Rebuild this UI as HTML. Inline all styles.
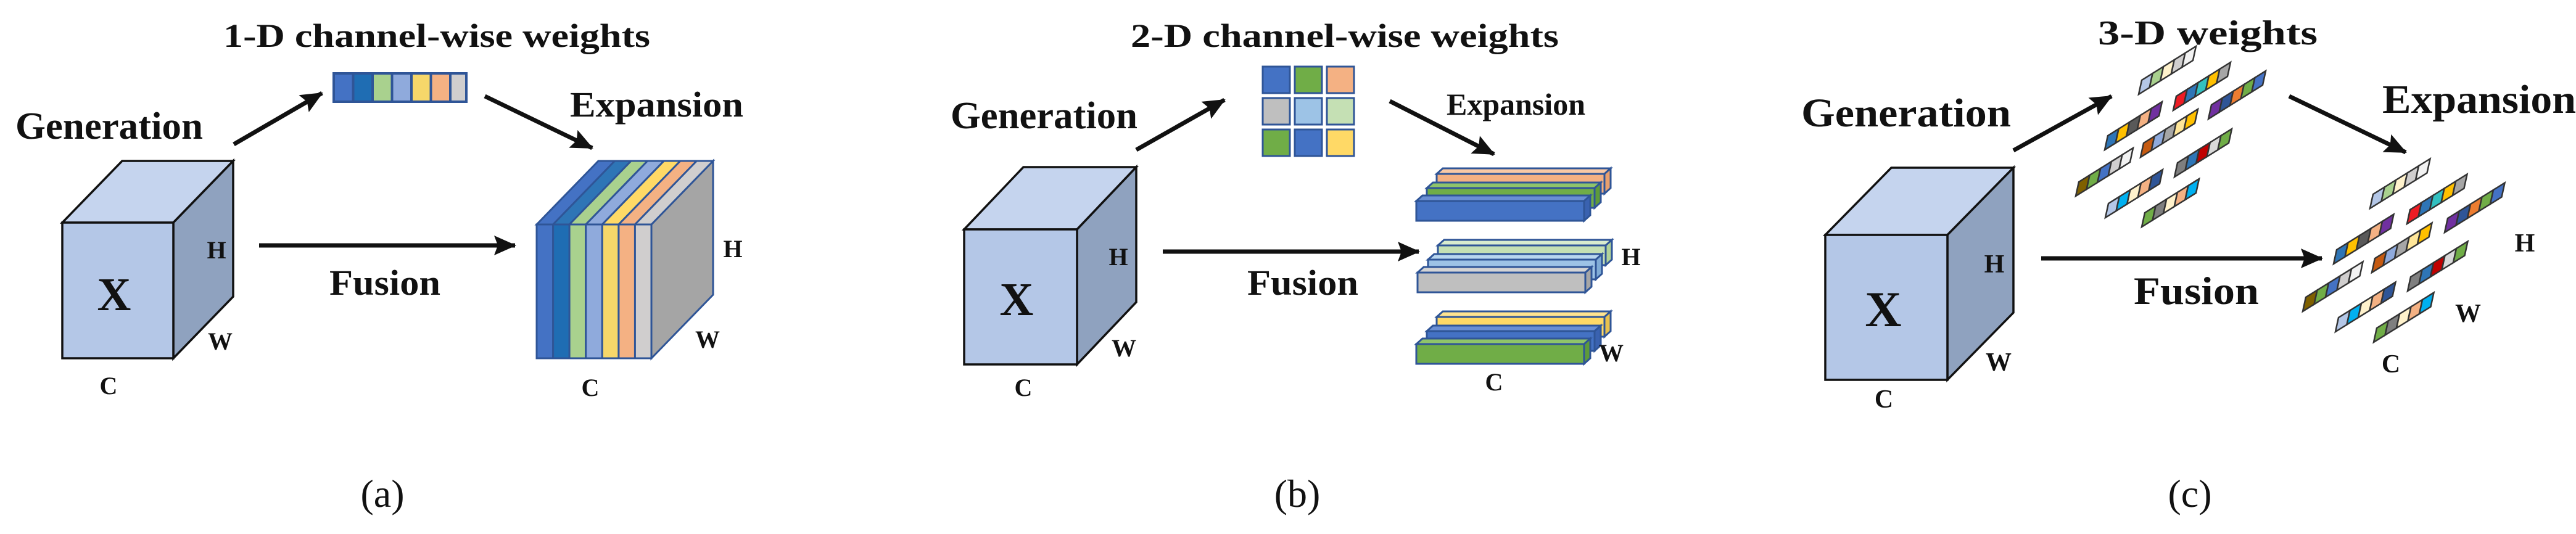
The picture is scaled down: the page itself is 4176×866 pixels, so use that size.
<!DOCTYPE html>
<html><head><meta charset="utf-8"><style>
html,body{margin:0;padding:0;background:#fff;}
svg{display:block;}
text{font-family:"Liberation Serif",serif;font-weight:bold;fill:#111;}
.lbl{font-weight:normal;}
.s rect{stroke:#333;stroke-width:2.5;vector-effect:non-scaling-stroke;}
</style></head><body>
<svg width="4176" height="866" viewBox="0 0 4176 866" xmlns="http://www.w3.org/2000/svg">
<defs>
<marker id="ah" markerUnits="userSpaceOnUse" markerWidth="40" markerHeight="32" refX="34" refY="16" orient="auto">
<path d="M0,0 L36,16 L0,32 L6,16 Z" fill="#111"/>
</marker>
</defs>

<!-- ================= (a) ================= -->
<text x="362" y="76" font-size="54" textLength="692" lengthAdjust="spacingAndGlyphs">1-D channel-wise weights</text>
<!-- 1D bar -->
<rect x="539" y="117" width="219" height="50" fill="#2f5597"/>
<g stroke="#2f5597" stroke-width="2">
<rect x="542" y="120" width="29.5" height="44" fill="#4472c4"/>
<rect x="573.5" y="120" width="29.5" height="44" fill="#1f6db3"/>
<rect x="605" y="120" width="29.5" height="44" fill="#a9d18e"/>
<rect x="636.5" y="120" width="29.5" height="44" fill="#8faadc"/>
<rect x="668" y="120" width="29.5" height="44" fill="#f6d76a"/>
<rect x="699.5" y="120" width="29.5" height="44" fill="#f4b183"/>
<rect x="731" y="120" width="24" height="44" fill="#d0cece"/>
</g>
<text x="25" y="225" font-size="62" textLength="304" lengthAdjust="spacingAndGlyphs">Generation</text>
<text x="924" y="189" font-size="58" textLength="281" lengthAdjust="spacingAndGlyphs">Expansion</text>
<text x="534" y="478" font-size="58" textLength="180" lengthAdjust="spacingAndGlyphs">Fusion</text>
<line x1="379" y1="234" x2="522" y2="151" stroke="#111" stroke-width="7" marker-end="url(#ah)"/>
<line x1="786" y1="156" x2="960" y2="240" stroke="#111" stroke-width="7" marker-end="url(#ah)"/>
<line x1="420" y1="398" x2="835" y2="398" stroke="#111" stroke-width="7" marker-end="url(#ah)"/>
<!-- cube a -->
<g stroke="#111" stroke-width="3.5" stroke-linejoin="miter">
<polygon points="101,361 198,261 378,261 281,361" fill="#c5d4ee"/>
<polygon points="281,361 378,261 378,481 281,581" fill="#8fa2bf"/>
<rect x="101" y="361" width="180" height="220" fill="#b4c7e7"/>
</g>
<text x="185" y="503" font-size="76" text-anchor="middle">X</text>
<text x="351" y="419" font-size="40" text-anchor="middle">H</text>
<text x="357" y="567" font-size="40" text-anchor="middle">W</text>
<text x="176" y="639" font-size="40" text-anchor="middle">C</text>
<!-- expanded block a -->
<g stroke="#2f5597" stroke-width="3">
<polygon points="1056,364 1156,261 1156,478 1056,581" fill="#a5a5a5"/>
<polygon points="870,364 896.6,364 996.6,261 970,261" fill="#4472c4"/>
<polygon points="896.6,364 923.1,364 1023.1,261 996.6,261" fill="#2e75b6"/>
<polygon points="923.1,364 949.7,364 1049.7,261 1023.1,261" fill="#a9d18e"/>
<polygon points="949.7,364 976.3,364 1076.3,261 1049.7,261" fill="#8faadc"/>
<polygon points="976.3,364 1002.9,364 1102.9,261 1076.3,261" fill="#ffd966"/>
<polygon points="1002.9,364 1029.4,364 1129.4,261 1102.9,261" fill="#f4b183"/>
<polygon points="1029.4,364 1056,364 1156,261 1129.4,261" fill="#d0cece"/>
<rect x="870" y="364" width="26.6" height="217" fill="#4472c4"/>
<rect x="896.6" y="364" width="26.6" height="217" fill="#1f6db3"/>
<rect x="923.1" y="364" width="26.6" height="217" fill="#a9d18e"/>
<rect x="949.7" y="364" width="26.6" height="217" fill="#8faadc"/>
<rect x="976.3" y="364" width="26.6" height="217" fill="#f6d76a"/>
<rect x="1002.9" y="364" width="26.6" height="217" fill="#f4b183"/>
<rect x="1029.4" y="364" width="26.6" height="217" fill="#d0cece"/>
</g>
<text x="1188" y="417" font-size="40" text-anchor="middle">H</text>
<text x="1147" y="564" font-size="40" text-anchor="middle">W</text>
<text x="957" y="642" font-size="40" text-anchor="middle">C</text>
<text class="lbl" x="620" y="822" font-size="64" text-anchor="middle">(a)</text>

<!-- ================= (b) ================= -->
<text x="1833" y="76" font-size="54" textLength="694" lengthAdjust="spacingAndGlyphs">2-D channel-wise weights</text>
<g stroke="#2f5597" stroke-width="3">
<rect x="2047" y="108" width="44" height="43" fill="#4472c4"/>
<rect x="2099" y="108" width="44" height="43" fill="#70ad47"/>
<rect x="2151" y="108" width="44" height="43" fill="#f4b183"/>
<rect x="2047" y="159" width="44" height="43" fill="#bfbfbf"/>
<rect x="2099" y="159" width="44" height="43" fill="#9dc3e6"/>
<rect x="2151" y="159" width="44" height="43" fill="#c5e0b4"/>
<rect x="2047" y="210" width="44" height="43" fill="#70ad47"/>
<rect x="2099" y="210" width="44" height="43" fill="#4472c4"/>
<rect x="2151" y="210" width="44" height="43" fill="#ffd966"/>
</g>
<text x="1541" y="208" font-size="62" textLength="303" lengthAdjust="spacingAndGlyphs">Generation</text>
<text x="2345" y="186" font-size="50" textLength="225" lengthAdjust="spacingAndGlyphs">Expansion</text>
<text x="2022" y="478" font-size="58" textLength="180" lengthAdjust="spacingAndGlyphs">Fusion</text>
<line x1="1842" y1="243" x2="1985" y2="162" stroke="#111" stroke-width="7" marker-end="url(#ah)"/>
<line x1="2253" y1="164" x2="2422" y2="250" stroke="#111" stroke-width="7" marker-end="url(#ah)"/>
<line x1="1885" y1="408" x2="2300" y2="408" stroke="#111" stroke-width="7" marker-end="url(#ah)"/>
<g stroke="#111" stroke-width="3.5">
<polygon points="1563,372 1659,271 1842,271 1746,372" fill="#c5d4ee"/>
<polygon points="1746,372 1842,271 1842,490 1746,591" fill="#8fa2bf"/>
<rect x="1563" y="372" width="183" height="219" fill="#b4c7e7"/>
</g>
<text x="1648" y="511" font-size="76" text-anchor="middle">X</text>
<text x="1813" y="430" font-size="40" text-anchor="middle">H</text>
<text x="1822" y="578" font-size="40" text-anchor="middle">W</text>
<text x="1659" y="642" font-size="40" text-anchor="middle">C</text>
<!-- bars -->
<g stroke="#2f5597" stroke-width="3">
<!-- group 1 -->
<polygon points="2329,282 2339,273 2611,273 2601,282" fill="#f8c9a6"/><polygon points="2601,282 2611,273 2611,305 2601,314" fill="#e9a06e"/><rect x="2329" y="282" width="272" height="32" fill="#f4b183"/>
<polygon points="2313,305 2323,296 2595,296 2585,305" fill="#8fc46a"/><polygon points="2585,305 2595,296 2595,328 2585,337" fill="#5e9a3a"/><rect x="2313" y="305" width="272" height="32" fill="#70ad47"/>
<polygon points="2296,326 2306,317 2578,317 2568,326" fill="#6a8fd4"/><polygon points="2568,326 2578,317 2578,349 2568,358" fill="#3a62b0"/><rect x="2296" y="326" width="272" height="32" fill="#4472c4"/>
<!-- group 2 -->
<polygon points="2331,398 2341,389 2613,389 2603,398" fill="#d9ecce"/><polygon points="2603,398 2613,389 2613,421 2603,430" fill="#b0d29a"/><rect x="2331" y="398" width="272" height="32" fill="#c5e0b4"/>
<polygon points="2315,421 2325,412 2597,412 2587,421" fill="#b8d6ef"/><polygon points="2587,421 2597,412 2597,444 2587,453" fill="#80acd6"/><rect x="2315" y="421" width="272" height="32" fill="#9dc3e6"/>
<polygon points="2298,442 2308,433 2580,433 2570,442" fill="#d4d4d4"/><polygon points="2570,442 2580,433 2580,465 2570,474" fill="#a6a6a6"/><rect x="2298" y="442" width="272" height="32" fill="#bfbfbf"/>
<!-- group 3 -->
<polygon points="2329,514 2339,505 2611,505 2601,514" fill="#ffe38f"/><polygon points="2601,514 2611,505 2611,537 2601,546" fill="#e8c14f"/><rect x="2329" y="514" width="272" height="32" fill="#ffd966"/>
<polygon points="2313,537 2323,528 2595,528 2585,537" fill="#6a8fd4"/><polygon points="2585,537 2595,528 2595,560 2585,569" fill="#3a62b0"/><rect x="2313" y="537" width="272" height="32" fill="#4472c4"/>
<polygon points="2296,558 2306,549 2578,549 2568,558" fill="#8fc46a"/><polygon points="2568,558 2578,549 2578,581 2568,590" fill="#5e9a3a"/><rect x="2296" y="558" width="272" height="32" fill="#70ad47"/>
</g>
<text x="2644" y="430" font-size="40" text-anchor="middle">H</text>
<text x="2612" y="586" font-size="40" text-anchor="middle">W</text>
<text x="2422" y="633" font-size="40" text-anchor="middle">C</text>
<text class="lbl" x="2103" y="822" font-size="64" text-anchor="middle">(b)</text>

<!-- ================= (c) ================= -->
<text x="3401" y="72" font-size="56" textLength="356" lengthAdjust="spacingAndGlyphs">3-D weights</text>
<text x="2920" y="205" font-size="66" textLength="340" lengthAdjust="spacingAndGlyphs">Generation</text>
<text x="3862" y="183" font-size="66" textLength="314" lengthAdjust="spacingAndGlyphs">Expansion</text>
<text x="3459" y="493" font-size="64" textLength="203" lengthAdjust="spacingAndGlyphs">Fusion</text>
<line x1="3264" y1="244" x2="3423" y2="156" stroke="#111" stroke-width="7" marker-end="url(#ah)"/>
<line x1="3711" y1="156" x2="3900" y2="247" stroke="#111" stroke-width="7" marker-end="url(#ah)"/>
<line x1="3309" y1="419" x2="3764" y2="419" stroke="#111" stroke-width="7" marker-end="url(#ah)"/>
<g stroke="#111" stroke-width="3.5">
<polygon points="2959,381 3066,272 3264,272 3157,381" fill="#c5d4ee"/>
<polygon points="3157,381 3264,272 3264,507 3157,616" fill="#8fa2bf"/>
<rect x="2959" y="381" width="198" height="235" fill="#b4c7e7"/>
</g>
<text x="3053" y="529" font-size="82" text-anchor="middle">X</text>
<text x="3233" y="442" font-size="42" text-anchor="middle">H</text>
<text x="3240" y="601" font-size="42" text-anchor="middle">W</text>
<text x="3054" y="661" font-size="42" text-anchor="middle">C</text>

<!-- generation cluster strips -->
<g class="s">
<g transform="matrix(17.6,-11,-5,23,3472,130)"><rect x="0" y="0" width="1" height="1" fill="#b4c7e7"/><rect x="1" y="0" width="1" height="1" fill="#a9d18e"/><rect x="2" y="0" width="1" height="1" fill="#fff2cc"/><rect x="3" y="0" width="1" height="1" fill="#d0cece"/><rect x="4" y="0" width="1" height="1" fill="#f2f2f2"/></g>
<g transform="matrix(17.6,-11,-5,23,3528,156)"><rect x="0" y="0" width="1" height="1" fill="#ee1c24"/><rect x="1" y="0" width="1" height="1" fill="#2e75b6"/><rect x="2" y="0" width="1" height="1" fill="#33c0c0"/><rect x="3" y="0" width="1" height="1" fill="#ffc000"/><rect x="4" y="0" width="1" height="1" fill="#a6a6a6"/></g>
<g transform="matrix(17.6,-11,-5,23,3417,220)"><rect x="0" y="0" width="1" height="1" fill="#2e75b6"/><rect x="1" y="0" width="1" height="1" fill="#ffc000"/><rect x="2" y="0" width="1" height="1" fill="#595959"/><rect x="3" y="0" width="1" height="1" fill="#f4b183"/><rect x="4" y="0" width="1" height="1" fill="#7030a0"/></g>
<g transform="matrix(17.6,-11,-5,23,3475,232)"><rect x="0" y="0" width="1" height="1" fill="#c55a11"/><rect x="1" y="0" width="1" height="1" fill="#8faadc"/><rect x="2" y="0" width="1" height="1" fill="#a6a6a6"/><rect x="3" y="0" width="1" height="1" fill="#ffe699"/><rect x="4" y="0" width="1" height="1" fill="#ffc000"/></g>
<g transform="matrix(17.6,-11,-5,23,3585,170)"><rect x="0" y="0" width="1" height="1" fill="#7030a0"/><rect x="1" y="0" width="1" height="1" fill="#2f5597"/><rect x="2" y="0" width="1" height="1" fill="#ed7d31"/><rect x="3" y="0" width="1" height="1" fill="#70ad47"/><rect x="4" y="0" width="1" height="1" fill="#4472c4"/></g>
<g transform="matrix(17.6,-11,-5,23,3370,295)"><rect x="0" y="0" width="1" height="1" fill="#7f6000"/><rect x="1" y="0" width="1" height="1" fill="#70ad47"/><rect x="2" y="0" width="1" height="1" fill="#4472c4"/><rect x="3" y="0" width="1" height="1" fill="#d0cece"/><rect x="4" y="0" width="1" height="1" fill="#f2f2f2"/></g>
<g transform="matrix(17.6,-11,-5,23,3530,264)"><rect x="0" y="0" width="1" height="1" fill="#7f7f7f"/><rect x="1" y="0" width="1" height="1" fill="#2e75b6"/><rect x="2" y="0" width="1" height="1" fill="#c00000"/><rect x="3" y="0" width="1" height="1" fill="#d9d9d9"/><rect x="4" y="0" width="1" height="1" fill="#70ad47"/></g>
<g transform="matrix(17.6,-11,-5,23,3418,330)"><rect x="0" y="0" width="1" height="1" fill="#b4c7e7"/><rect x="1" y="0" width="1" height="1" fill="#00b0f0"/><rect x="2" y="0" width="1" height="1" fill="#fff2cc"/><rect x="3" y="0" width="1" height="1" fill="#f4b183"/><rect x="4" y="0" width="1" height="1" fill="#2f5597"/></g>
<g transform="matrix(17.6,-11,-5,23,3477,345)"><rect x="0" y="0" width="1" height="1" fill="#70ad47"/><rect x="1" y="0" width="1" height="1" fill="#7f7f7f"/><rect x="2" y="0" width="1" height="1" fill="#fff2cc"/><rect x="3" y="0" width="1" height="1" fill="#f4b183"/><rect x="4" y="0" width="1" height="1" fill="#00b0f0"/></g>
</g>

<!-- expansion cluster strips -->
<g class="s">
<g transform="matrix(18.5,-11.5,-5,23,3847,315)"><rect x="0" y="0" width="1" height="1" fill="#b4c7e7"/><rect x="1" y="0" width="1" height="1" fill="#a9d18e"/><rect x="2" y="0" width="1" height="1" fill="#fff2cc"/><rect x="3" y="0" width="1" height="1" fill="#d0cece"/><rect x="4" y="0" width="1" height="1" fill="#f2f2f2"/></g>
<g transform="matrix(18.5,-11.5,-5,23,3907,340)"><rect x="0" y="0" width="1" height="1" fill="#ee1c24"/><rect x="1" y="0" width="1" height="1" fill="#2e75b6"/><rect x="2" y="0" width="1" height="1" fill="#33c0c0"/><rect x="3" y="0" width="1" height="1" fill="#ffc000"/><rect x="4" y="0" width="1" height="1" fill="#a6a6a6"/></g>
<g transform="matrix(18.5,-11.5,-5,23,3788,405)"><rect x="0" y="0" width="1" height="1" fill="#2e75b6"/><rect x="1" y="0" width="1" height="1" fill="#ffc000"/><rect x="2" y="0" width="1" height="1" fill="#595959"/><rect x="3" y="0" width="1" height="1" fill="#f4b183"/><rect x="4" y="0" width="1" height="1" fill="#7030a0"/></g>
<g transform="matrix(18.5,-11.5,-5,23,3850,419)"><rect x="0" y="0" width="1" height="1" fill="#c55a11"/><rect x="1" y="0" width="1" height="1" fill="#8faadc"/><rect x="2" y="0" width="1" height="1" fill="#a6a6a6"/><rect x="3" y="0" width="1" height="1" fill="#ffe699"/><rect x="4" y="0" width="1" height="1" fill="#ffc000"/></g>
<g transform="matrix(18.5,-11.5,-5,23,3968,354)"><rect x="0" y="0" width="1" height="1" fill="#7030a0"/><rect x="1" y="0" width="1" height="1" fill="#2f5597"/><rect x="2" y="0" width="1" height="1" fill="#ed7d31"/><rect x="3" y="0" width="1" height="1" fill="#70ad47"/><rect x="4" y="0" width="1" height="1" fill="#4472c4"/></g>
<g transform="matrix(18.5,-11.5,-5,23,3738,482)"><rect x="0" y="0" width="1" height="1" fill="#7f6000"/><rect x="1" y="0" width="1" height="1" fill="#70ad47"/><rect x="2" y="0" width="1" height="1" fill="#4472c4"/><rect x="3" y="0" width="1" height="1" fill="#d0cece"/><rect x="4" y="0" width="1" height="1" fill="#f2f2f2"/></g>
<g transform="matrix(18.5,-11.5,-5,23,3908,449)"><rect x="0" y="0" width="1" height="1" fill="#7f7f7f"/><rect x="1" y="0" width="1" height="1" fill="#2e75b6"/><rect x="2" y="0" width="1" height="1" fill="#c00000"/><rect x="3" y="0" width="1" height="1" fill="#d9d9d9"/><rect x="4" y="0" width="1" height="1" fill="#70ad47"/></g>
<g transform="matrix(18.5,-11.5,-5,23,3791,515)"><rect x="0" y="0" width="1" height="1" fill="#b4c7e7"/><rect x="1" y="0" width="1" height="1" fill="#00b0f0"/><rect x="2" y="0" width="1" height="1" fill="#fff2cc"/><rect x="3" y="0" width="1" height="1" fill="#f4b183"/><rect x="4" y="0" width="1" height="1" fill="#2f5597"/></g>
<g transform="matrix(18.5,-11.5,-5,23,3853,532)"><rect x="0" y="0" width="1" height="1" fill="#70ad47"/><rect x="1" y="0" width="1" height="1" fill="#7f7f7f"/><rect x="2" y="0" width="1" height="1" fill="#fff2cc"/><rect x="3" y="0" width="1" height="1" fill="#f4b183"/><rect x="4" y="0" width="1" height="1" fill="#00b0f0"/></g>
</g>
<text x="4093" y="408" font-size="42" text-anchor="middle">H</text>
<text x="4001" y="522" font-size="42" text-anchor="middle">W</text>
<text x="3876" y="604" font-size="42" text-anchor="middle">C</text>
<text class="lbl" x="3550" y="822" font-size="64" text-anchor="middle">(c)</text>
</svg>
</body></html>
